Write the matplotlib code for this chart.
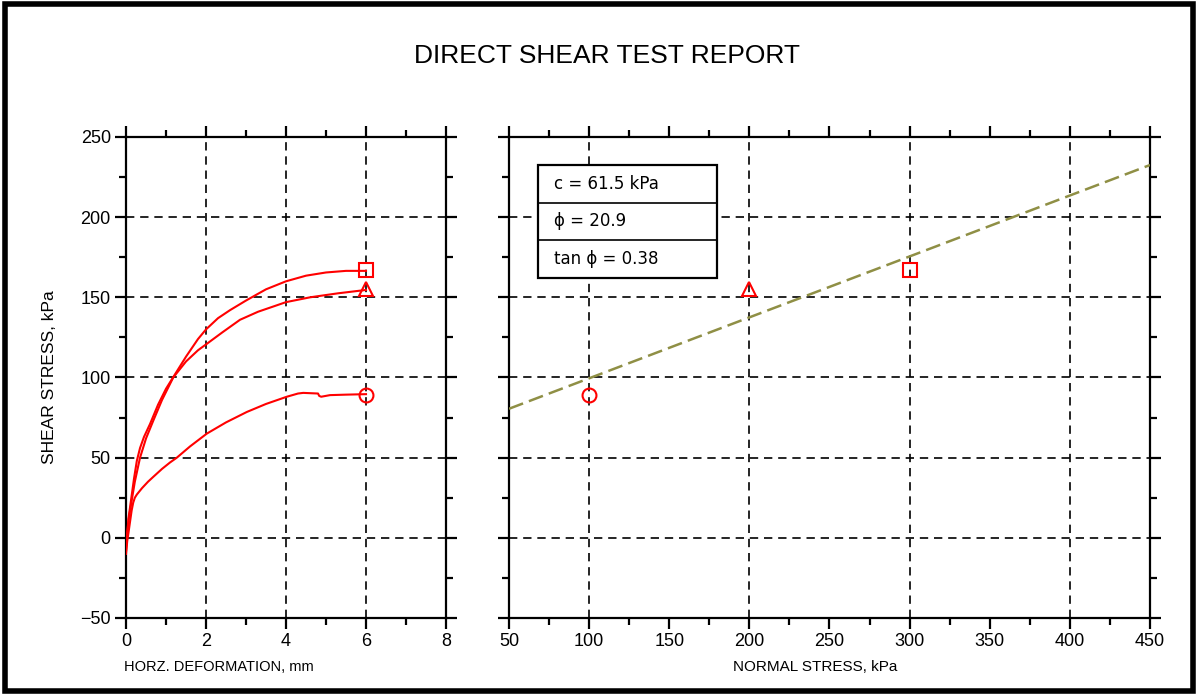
import matplotlib
matplotlib.use('Agg')
import matplotlib.pyplot as plt
from matplotlib.ticker import MultipleLocator
from matplotlib.patches import Rectangle
from matplotlib.lines import Line2D

plt.rcParams['font.family'] = ['Liberation Sans Narrow', 'Liberation Sans', 'DejaVu Sans']

# stress-deformation curves (horizontal deformation mm, shear stress kPa)
sq_x = [0, 0.03, 0.06, 0.1, 0.15, 0.2, 0.27, 0.35, 0.45, 0.6, 0.8, 1.0, 1.2, 1.5,
        1.8, 2.0, 2.3, 2.6, 3.0, 3.5, 4.0, 4.5, 5.0, 5.5, 6.0]
sq_y = [-8, 2, 12, 19, 28, 37, 48, 56, 63, 71, 83, 93, 101, 113,
        124, 130, 137, 142, 148, 155, 160, 163.5, 165.5, 166.5, 166.5]
tri_x = [0, 0.03, 0.07, 0.14, 0.22, 0.35, 0.5, 0.68, 0.9, 1.18, 1.5, 1.8, 2.02, 2.4,
         2.85, 3.3, 4.0, 4.6, 5.3, 6.0]
tri_y = [-5, 3, 12, 23, 35, 50, 62, 73, 86, 100, 110, 117, 121, 128,
         136, 141, 147, 150, 152.5, 154.6]
cir_x = [0, 0.03, 0.06, 0.1, 0.14, 0.18, 0.22, 0.27, 0.4, 0.55, 0.68, 0.9, 1.1, 1.27,
         1.6, 2.02, 2.5, 3.02, 3.5, 4.02, 4.3, 4.43, 4.8, 4.83, 4.88, 5.1, 5.5, 6.0]
cir_y = [-10, -2, 3, 10, 17, 22, 25, 27, 31, 35, 38, 43, 47, 50,
         57, 65, 72, 78.5, 83.5, 88, 90, 90.4, 90, 88.5, 88, 89, 89.3, 89.6]

# peak values
peak_def = [6, 6, 6]
peak_shear = [89, 155, 167]
normal_stress = [100, 200, 300]
markers = ['o', '^', 's']

# failure envelope
cohesion = 61.5
tan_phi = 0.38
phi = 20.9
env_x = [50, 450]

fig = plt.figure(figsize=(11.98, 6.95), dpi=100)
fig.patches.append(Rectangle((0.004, 0.006), 0.992, 0.988, transform=fig.transFigure,
                             fill=False, edgecolor='black', linewidth=4))

fig.text(0.507, 0.92, 'DIRECT SHEAR TEST REPORT', ha='center', va='center', fontsize=19)

ax1 = fig.add_axes([0.1052, 0.1108, 0.2671, 0.6921])
ax2 = fig.add_axes([0.4249, 0.1108, 0.5350, 0.6921])

grid_kw = dict(color='black', linestyle=(0, (5, 3.5)), linewidth=1.2)

for ax in (ax1, ax2):
    ax.set_ylim(-50, 250)
    ax.yaxis.set_major_locator(MultipleLocator(50))
    ax.yaxis.set_minor_locator(MultipleLocator(25))
    for s in ax.spines.values():
        s.set_linewidth(1.6)
    ax.tick_params(which='major', direction='out', length=8, width=1.6,
                   top=True, right=True, labelsize=13, pad=3)
    ax.tick_params(which='minor', direction='out', length=5, width=1.6,
                   top=True, right=True)
    for v in [0, 50, 100, 150, 200]:
        ax.axhline(v, zorder=1, **grid_kw)

ax1.set_xlim(0, 8)
ax1.xaxis.set_major_locator(MultipleLocator(2))
ax1.xaxis.set_minor_locator(MultipleLocator(1))
for v in [2, 4, 6]:
    ax1.axvline(v, zorder=1, **grid_kw)

ax2.set_xlim(50, 450)
ax2.xaxis.set_major_locator(MultipleLocator(50))
ax2.xaxis.set_minor_locator(MultipleLocator(25))
ax2.set_yticklabels([])
for v in [100, 200, 300, 400]:
    ax2.axvline(v, zorder=1, **grid_kw)

ax1.plot(sq_x, sq_y, color='red', linewidth=1.5, zorder=3)
ax1.plot(tri_x, tri_y, color='red', linewidth=1.5, zorder=3)
ax1.plot(cir_x, cir_y, color='red', linewidth=1.5, zorder=3)

for i in range(3):
    ax1.plot(peak_def[i], peak_shear[i], marker=markers[i], markersize=10,
             markerfacecolor='none', markeredgecolor='red', markeredgewidth=1.5, zorder=4)
    ax2.plot(normal_stress[i], peak_shear[i], marker=markers[i], markersize=10,
             markerfacecolor='none', markeredgecolor='red', markeredgewidth=1.5, zorder=4)

env_y = [cohesion + tan_phi * x for x in env_x]
ax2.plot(env_x, env_y, color='#8f8f45', linestyle=(0, (6, 2.5)), linewidth=1.8, zorder=3)

ax1.set_xlabel('HORZ. DEFORMATION, mm', fontsize=10.5)
ax1.xaxis.set_label_coords(0.29, -0.087)
ax1.set_ylabel('SHEAR STRESS, kPa', fontsize=12.5)
ax1.yaxis.set_label_coords(-0.216, 0.5)
ax2.set_xlabel('NORMAL STRESS, kPa', fontsize=11)
ax2.xaxis.set_label_coords(0.477, -0.087)

# parameter box
bx0, bx1 = 0.0452, 0.3245
by0, by1 = 0.7068, 0.9418
ax2.add_patch(Rectangle((bx0, by0), bx1 - bx0, by1 - by0, transform=ax2.transAxes,
                        facecolor='white', edgecolor='black', linewidth=1.6, zorder=5))
rows = ['c = %.1f kPa' % cohesion, '\u03d5 = %.1f' % phi, 'tan \u03d5 = %.2f' % tan_phi]
h = (by1 - by0) / 3
for i, txt in enumerate(rows):
    yc = by1 - h * (i + 0.5)
    ax2.text(bx0 + 0.025, yc, txt, transform=ax2.transAxes, ha='left', va='center',
             fontsize=12, zorder=6, family=['Liberation Sans Narrow', 'DejaVu Sans'])
    if i > 0:
        ax2.add_line(Line2D([bx0, bx1], [by1 - h * i] * 2, transform=ax2.transAxes,
                            color='black', linewidth=1.2, zorder=6))

fig.savefig('out.png', dpi=100)
